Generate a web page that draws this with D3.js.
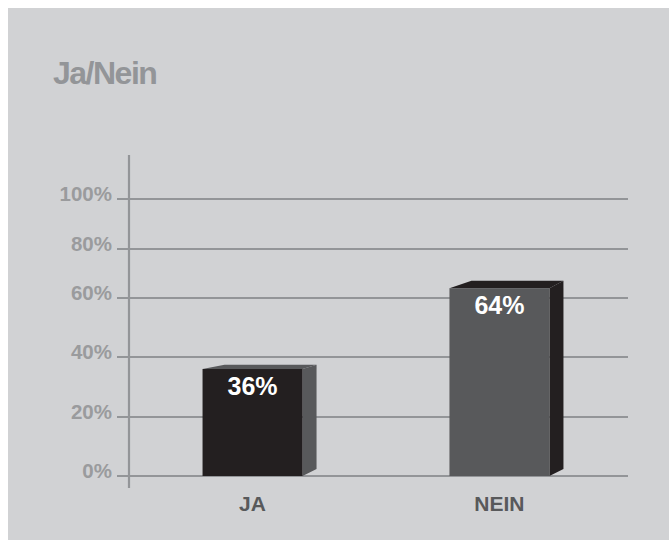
<!DOCTYPE html>
<html><head><meta charset="utf-8">
<script src="https://cdn.jsdelivr.net/npm/d3@7"></script>
<style>
html,body{margin:0;padding:0;background:#fff;}
svg{display:block;}
text{font-family:"Liberation Sans",Arial,Helvetica,sans-serif;font-weight:bold;}
</style></head>
<body>
<script>
const title = "Ja/Nein";
const categories = ["JA", "NEIN"];
const values = [36, 64];
const valueLabels = ["36%", "64%"];
const tickValues = [0, 20, 40, 60, 80, 100];
const tickLabels = ["0%", "20%", "40%", "60%", "80%", "100%"];
const frontColors = ["#231f20", "#58595b"];
const sideColors = ["#58595b", "#231f20"];

const W = 669, H = 540;
const svg = d3.select("body").append("svg").attr("width", W).attr("height", H);
svg.append("rect").attr("x", 8).attr("y", 8).attr("width", W - 8).attr("height", H - 8).attr("fill", "#d1d2d4");

svg.append("text").attr("x", 53).attr("y", 84).attr("font-size", 32).attr("letter-spacing", "-1.5px")
  .attr("fill", "#939598").text(title);

// y scale: the reference's gridlines are not evenly spaced, so piecewise
const y = d3.scaleLinear().domain(tickValues).range([476, 417, 357, 298, 249, 199]);
const x = d3.scaleBand().domain(categories).range([126, 626]).paddingInner(0.595).paddingOuter(0.31);

const axisX = 129;
svg.append("g").selectAll("line").data(tickValues).join("line")
  .attr("x1", 117).attr("x2", 628)
  .attr("y1", d => y(d)).attr("y2", d => y(d))
  .attr("stroke", "#939598").attr("stroke-width", 2.2);
svg.append("line").attr("x1", axisX).attr("x2", axisX).attr("y1", 155).attr("y2", 488)
  .attr("stroke", "#939598").attr("stroke-width", 2.2);
svg.append("g").selectAll("text").data(tickValues).join("text")
  .attr("x", 112).attr("y", d => y(d) - 5).attr("dy", "0.35em")
  .attr("text-anchor", "end").attr("font-size", 20.5).attr("fill", "#9a9b9d")
  .text((d, i) => tickLabels[i]);

const sideDx = 14, topDx = 22, botDy = 7;
const g = svg.append("g");
categories.forEach((c, i) => {
  const x0 = x(c), x1 = x(c) + x.bandwidth();
  const yT = y(values[i]), yB = y(0);
  const dt = Math.max(4, 0.04 * (yB - yT));
  g.append("polygon")
    .attr("points", [[x1, yT], [x1 + sideDx, yT - dt], [x1 + sideDx, yB - botDy], [x1, yB]].map(p => p.join(",")).join(" "))
    .attr("fill", sideColors[i]);
  g.append("polygon")
    .attr("points", [[x0, yT], [x0 + topDx, yT - dt], [x1 + sideDx, yT - dt], [x1, yT]].map(p => p.join(",")).join(" "))
    .attr("fill", sideColors[i]);
  g.append("rect").attr("x", x0).attr("y", yT).attr("width", x.bandwidth()).attr("height", yB - yT)
    .attr("fill", frontColors[i]);
  g.append("text").attr("x", x0 + x.bandwidth() / 2).attr("y", yT + 26)
    .attr("text-anchor", "middle").attr("font-size", 25).attr("fill", "#ffffff").text(valueLabels[i]);
  g.append("text").attr("x", x0 + x.bandwidth() / 2).attr("y", 511)
    .attr("text-anchor", "middle").attr("font-size", 21).attr("fill", "#58595b").text(c);
});
</script>
</body></html>
